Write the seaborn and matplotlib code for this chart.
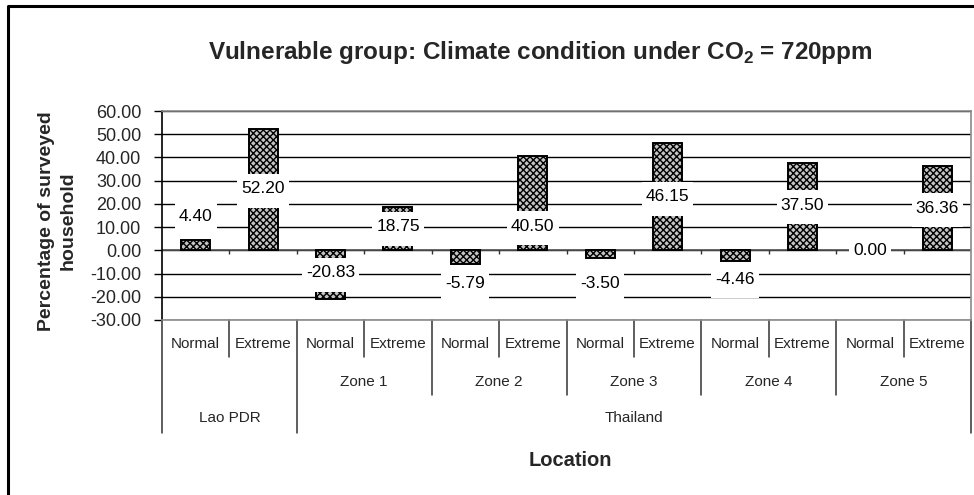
import matplotlib
matplotlib.use("Agg")
import matplotlib.pyplot as plt
import pandas as pd
import seaborn as sns
from matplotlib.lines import Line2D
from matplotlib.patches import Rectangle
from matplotlib.ticker import FormatStrFormatter

# ---- data -------------------------------------------------------------
countries = ["Lao PDR", "Thailand", "Thailand", "Thailand", "Thailand", "Thailand"]
zones = ["", "Zone 1", "Zone 2", "Zone 3", "Zone 4", "Zone 5"]
conditions = ["Normal", "Extreme"]
normal_pct = [4.40, -20.83, -5.79, -3.50, -4.46, 0.00]
extreme_pct = [52.20, 18.75, 40.50, 46.15, 37.50, 36.36]
y_ticks = [-30, -20, -10, 0, 10, 20, 30, 40, 50, 60]

# where each value label sits along the value axis (one per bar)
label_pos = [14.4, 26.6, -9.6, 10.1, -14.2, 10.3, -14.2, 23.1, -12.4, 19.5, 0.0, 18.1]

rows = []
for g in range(len(zones)):
    for cond, vals in zip(conditions, (normal_pct, extreme_pct)):
        rows.append({"country": countries[g], "zone": zones[g], "condition": cond,
                     "key": f"{countries[g]}|{zones[g]}|{cond}", "value": vals[g]})
df = pd.DataFrame(rows)

# ---- styling ----------------------------------------------------------
sns.set_theme(style="white")
plt.rcParams["font.family"] = ["Liberation Sans", "DejaVu Sans"]
plt.rcParams["mathtext.fontset"] = "custom"
plt.rcParams["mathtext.rm"] = "Liberation Sans"
plt.rcParams["mathtext.bf"] = "Liberation Sans:bold"
plt.rcParams["hatch.color"] = "#222222"
plt.rcParams["hatch.linewidth"] = 1.0

W, H = 974, 495
L, R, T, B = 162, 971, 111, 320  # plot area in pixels

fig = plt.figure(figsize=(W / 100, H / 100), dpi=100)
ax = fig.add_axes([L / W, 1 - B / H, (R - L) / W, (B - T) / H])

sns.barplot(data=df, x="key", y="value", order=df["key"].tolist(), ax=ax,
            width=0.43, color="#bdbdbd", edgecolor="black", linewidth=1.4,
            saturation=1, zorder=3)
for p in ax.patches:
    p.set_hatch("xxxxx")
    p.set_facecolor("#c4c4c4")

ax.set_xlim(-0.5, len(df) - 0.5)
ax.set_ylim(y_ticks[0], y_ticks[-1])
ax.set_yticks(y_ticks)
ax.yaxis.set_major_formatter(FormatStrFormatter("%.2f"))
ax.tick_params(axis="y", direction="out", length=6, width=1, color="black",
               labelsize=13, pad=9, left=True)
ax.set_xticks([])
ax.set_xlabel("")
ax.set_ylabel("")

ax.set_axisbelow(True)
ax.yaxis.grid(True, color="black", linewidth=1.0)
ax.axhline(0, color="#555555", linewidth=1.2, zorder=2)

for side in ("top", "right", "bottom"):
    ax.spines[side].set_color("#8a8a8a")
    ax.spines[side].set_linewidth(1.2)
ax.spines["left"].set_color("black")
ax.spines["left"].set_linewidth(1.2)

# small ticks on the zero line between categories
bounds = [k + 0.5 for k in range(len(df) - 1)]
ax.vlines(bounds, -1.7, 0, color="#333333", linewidth=1, zorder=2)

# ---- value labels with white boxes --------------------------------------
fig.canvas.draw()
renderer = fig.canvas.get_renderer()
inv = ax.transData.inverted()
for i, (v, ly) in enumerate(zip(df["value"], label_pos)):
    t = ax.text(i, ly, f"{v:.2f}", ha="center", va="center", fontsize=12.5,
                color="black", zorder=6)
    bb = t.get_window_extent(renderer)
    cx, cy = ax.transData.transform((i, ly))
    x0, y0 = inv.transform((bb.x0 - 4, cy - 19))
    x1, y1 = inv.transform((bb.x1 + 4, cy + 15))
    ax.add_patch(Rectangle((x0, y0), x1 - x0, y1 - y0, facecolor="white",
                           edgecolor="none", zorder=5))

# ---- multi-level category axis --------------------------------------------
xt = ax.get_xaxis_transform()


def ay(py):
    return (B - py) / (B - T)


line_kw = dict(color="#333333", linewidth=1.1, clip_on=False, transform=xt)

for i, cond in enumerate(df["condition"]):
    ax.text(i, ay(344), cond, ha="center", va="center", fontsize=11,
            transform=xt, clip_on=False)

n_cond = len(conditions)
for g, z in enumerate(zones):
    centre = g * n_cond + (n_cond - 1) / 2
    if z:
        ax.text(centre, ay(382), z, ha="center", va="center", fontsize=11,
                transform=xt, clip_on=False)
    # separator inside the group
    ax.add_line(Line2D([g * n_cond + 0.5] * 2, [ay(B), ay(357)], **line_kw))

# group and country separators
for g in range(len(zones) + 1):
    xb = g * n_cond - 0.5
    if g == 0 or g == len(zones) or countries[g] != countries[g - 1]:
        bottom = 433
    else:
        bottom = 395
    ax.add_line(Line2D([xb, xb], [ay(B), ay(bottom)], **line_kw))

country_names = list(dict.fromkeys(countries))
for c in country_names:
    idx = df.index[df["country"] == c]
    ax.text((idx.min() + idx.max()) / 2, ay(418), c, ha="center", va="center",
            fontsize=11, transform=xt, clip_on=False)

# ---- titles ----------------------------------------------------------------
fig.text(540 / W, 1 - 52 / H,
         r"Vulnerable group: Climate condition under CO$_\mathbf{2}$ = 720ppm",
         ha="center", va="center", fontsize=17.5, fontweight="bold")
fig.text(570 / W, 1 - 460 / H, "Location", ha="center", va="center",
         fontsize=14.5, fontweight="bold")
fig.text(57 / W, 1 - 221 / H, "Percentage of surveyed\nhousehold", ha="center",
         va="center", rotation=90, fontsize=14, fontweight="bold", linespacing=1.35)

# outer chart frame (runs off the right and bottom edges)
fig.add_artist(Line2D([8 / W, 8 / W, 1.0], [0.0, 1 - 6 / H, 1 - 6 / H],
                      color="black", linewidth=2.2, transform=fig.transFigure))

fig.savefig("out.png", dpi=100, facecolor="white")
